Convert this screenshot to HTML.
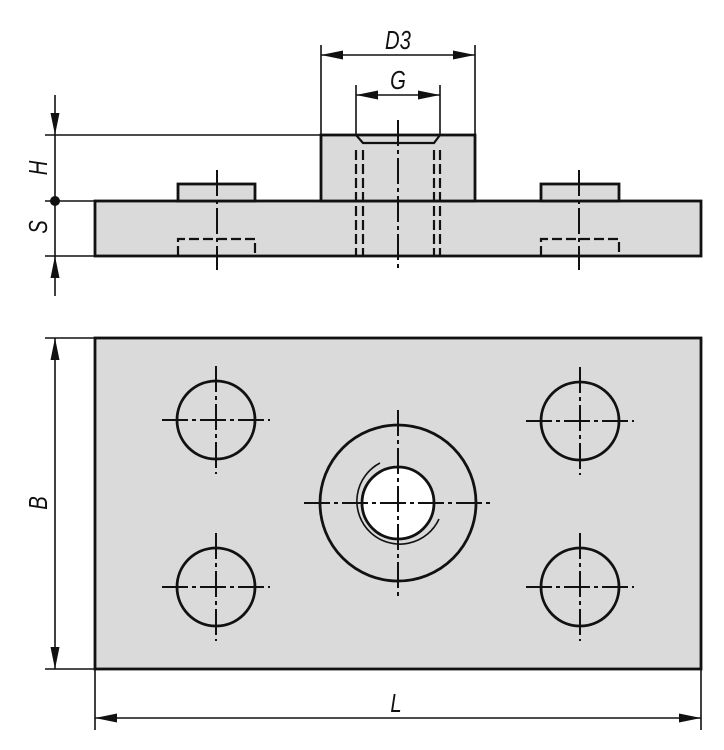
<!DOCTYPE html>
<html><head><meta charset="utf-8"><style>html,body{margin:0;padding:0;background:#fff}svg{display:block}</style></head>
<body>
<svg width="724" height="750" viewBox="0 0 724 750" xmlns="http://www.w3.org/2000/svg" font-family="Liberation Sans, sans-serif">
<defs>
<marker id="a" viewBox="0 0 22 9" refX="22" refY="4.5" markerWidth="22" markerHeight="9" markerUnits="userSpaceOnUse" orient="auto"><path d="M0,0 L22,4.5 L0,9 z" fill="#111"/></marker>
</defs>
<g stroke="#111" fill="none">
<rect x="95" y="201" width="606" height="55" fill="#dadada" stroke-width="2.8"/>
<rect x="321" y="135" width="154" height="66" fill="#dadada" stroke-width="2.8"/>
<rect x="178" y="184" width="77" height="17" fill="#dadada" stroke-width="2.8"/>
<rect x="541" y="184" width="78" height="17" fill="#dadada" stroke-width="2.8"/>
<g stroke-width="2.2" stroke-dasharray="10,4">
<path d="M178,256 V239 H255 V256"/>
<path d="M541,256 V239 H619 V256"/>
<path d="M356,150 V256 M363,150 V256 M434,150 V256 M440,150 V256"/>
</g>
<path d="M356,135 L363,143 H434 L440,135" stroke-width="2.2"/>
<g stroke-width="2" stroke-dasharray="26,4,4,4">
<path d="M398,120 V272"/>
<path d="M217,170 V270"/>
<path d="M579,170 V270"/>
</g>
<g stroke-width="1.6">
<path d="M45,135 H321 M45,201 H95 M45,256 H95"/>
<path d="M55,95 V135" marker-end="url(#a)"/>
<path d="M55,296 V256" marker-end="url(#a)"/>
<path d="M55,135 V256"/>
<path d="M321,45 V135 M475,45 V135"/>
<path d="M398,55 H321" marker-end="url(#a)"/>
<path d="M398,55 H475" marker-end="url(#a)"/>
<path d="M356,85 V135 M440,85 V135"/>
<path d="M398,95 H356" marker-end="url(#a)"/>
<path d="M398,95 H440" marker-end="url(#a)"/>
</g>
<circle cx="55" cy="201" r="5" fill="#111" stroke="none"/>
<rect x="95" y="338" width="606" height="331" fill="#dadada" stroke-width="2.8"/>
<g stroke-width="2.8">
<circle cx="216" cy="420" r="39"/>
<circle cx="580" cy="421" r="39"/>
<circle cx="216" cy="587" r="39"/>
<circle cx="580" cy="587" r="39"/>
<circle cx="398" cy="503" r="78"/>
<circle cx="398" cy="503" r="36" fill="#fff"/>
</g>
<path d="M380,463 A43,43 0 1 0 439,519" stroke-width="1.6"/>
<g stroke-width="2" stroke-dasharray="26,4,4,4">
<path d="M162,420 H270 M216,366 V474"/>
<path d="M526,421 H634 M580,367 V475"/>
<path d="M162,587 H270 M216,533 V641"/>
<path d="M526,587 H634 M580,533 V641"/>
<path d="M304,503 H493 M398,410 V596"/>
</g>
<g stroke-width="1.6">
<path d="M45,338 H95 M45,669 H95"/>
<path d="M55,503 V338" marker-end="url(#a)"/>
<path d="M55,503 V669" marker-end="url(#a)"/>
<path d="M95,669 V730 M701,669 V730"/>
<path d="M398,718 H95" marker-end="url(#a)"/>
<path d="M398,718 H701" marker-end="url(#a)"/>
</g>
</g>
<g font-size="26" font-style="italic" fill="#111" text-anchor="middle">
<text transform="translate(398,49) scale(0.78,1)">D3</text>
<text transform="translate(398,89) scale(0.78,1)">G</text>
<text transform="translate(396,712) scale(0.78,1)">L</text>
<text transform="translate(47,168) rotate(-90) scale(0.78,1)">H</text>
<text transform="translate(47,227) rotate(-90) scale(0.78,1)">S</text>
<text transform="translate(47,503) rotate(-90) scale(0.78,1)">B</text>
</g>
</svg>
</body></html>
